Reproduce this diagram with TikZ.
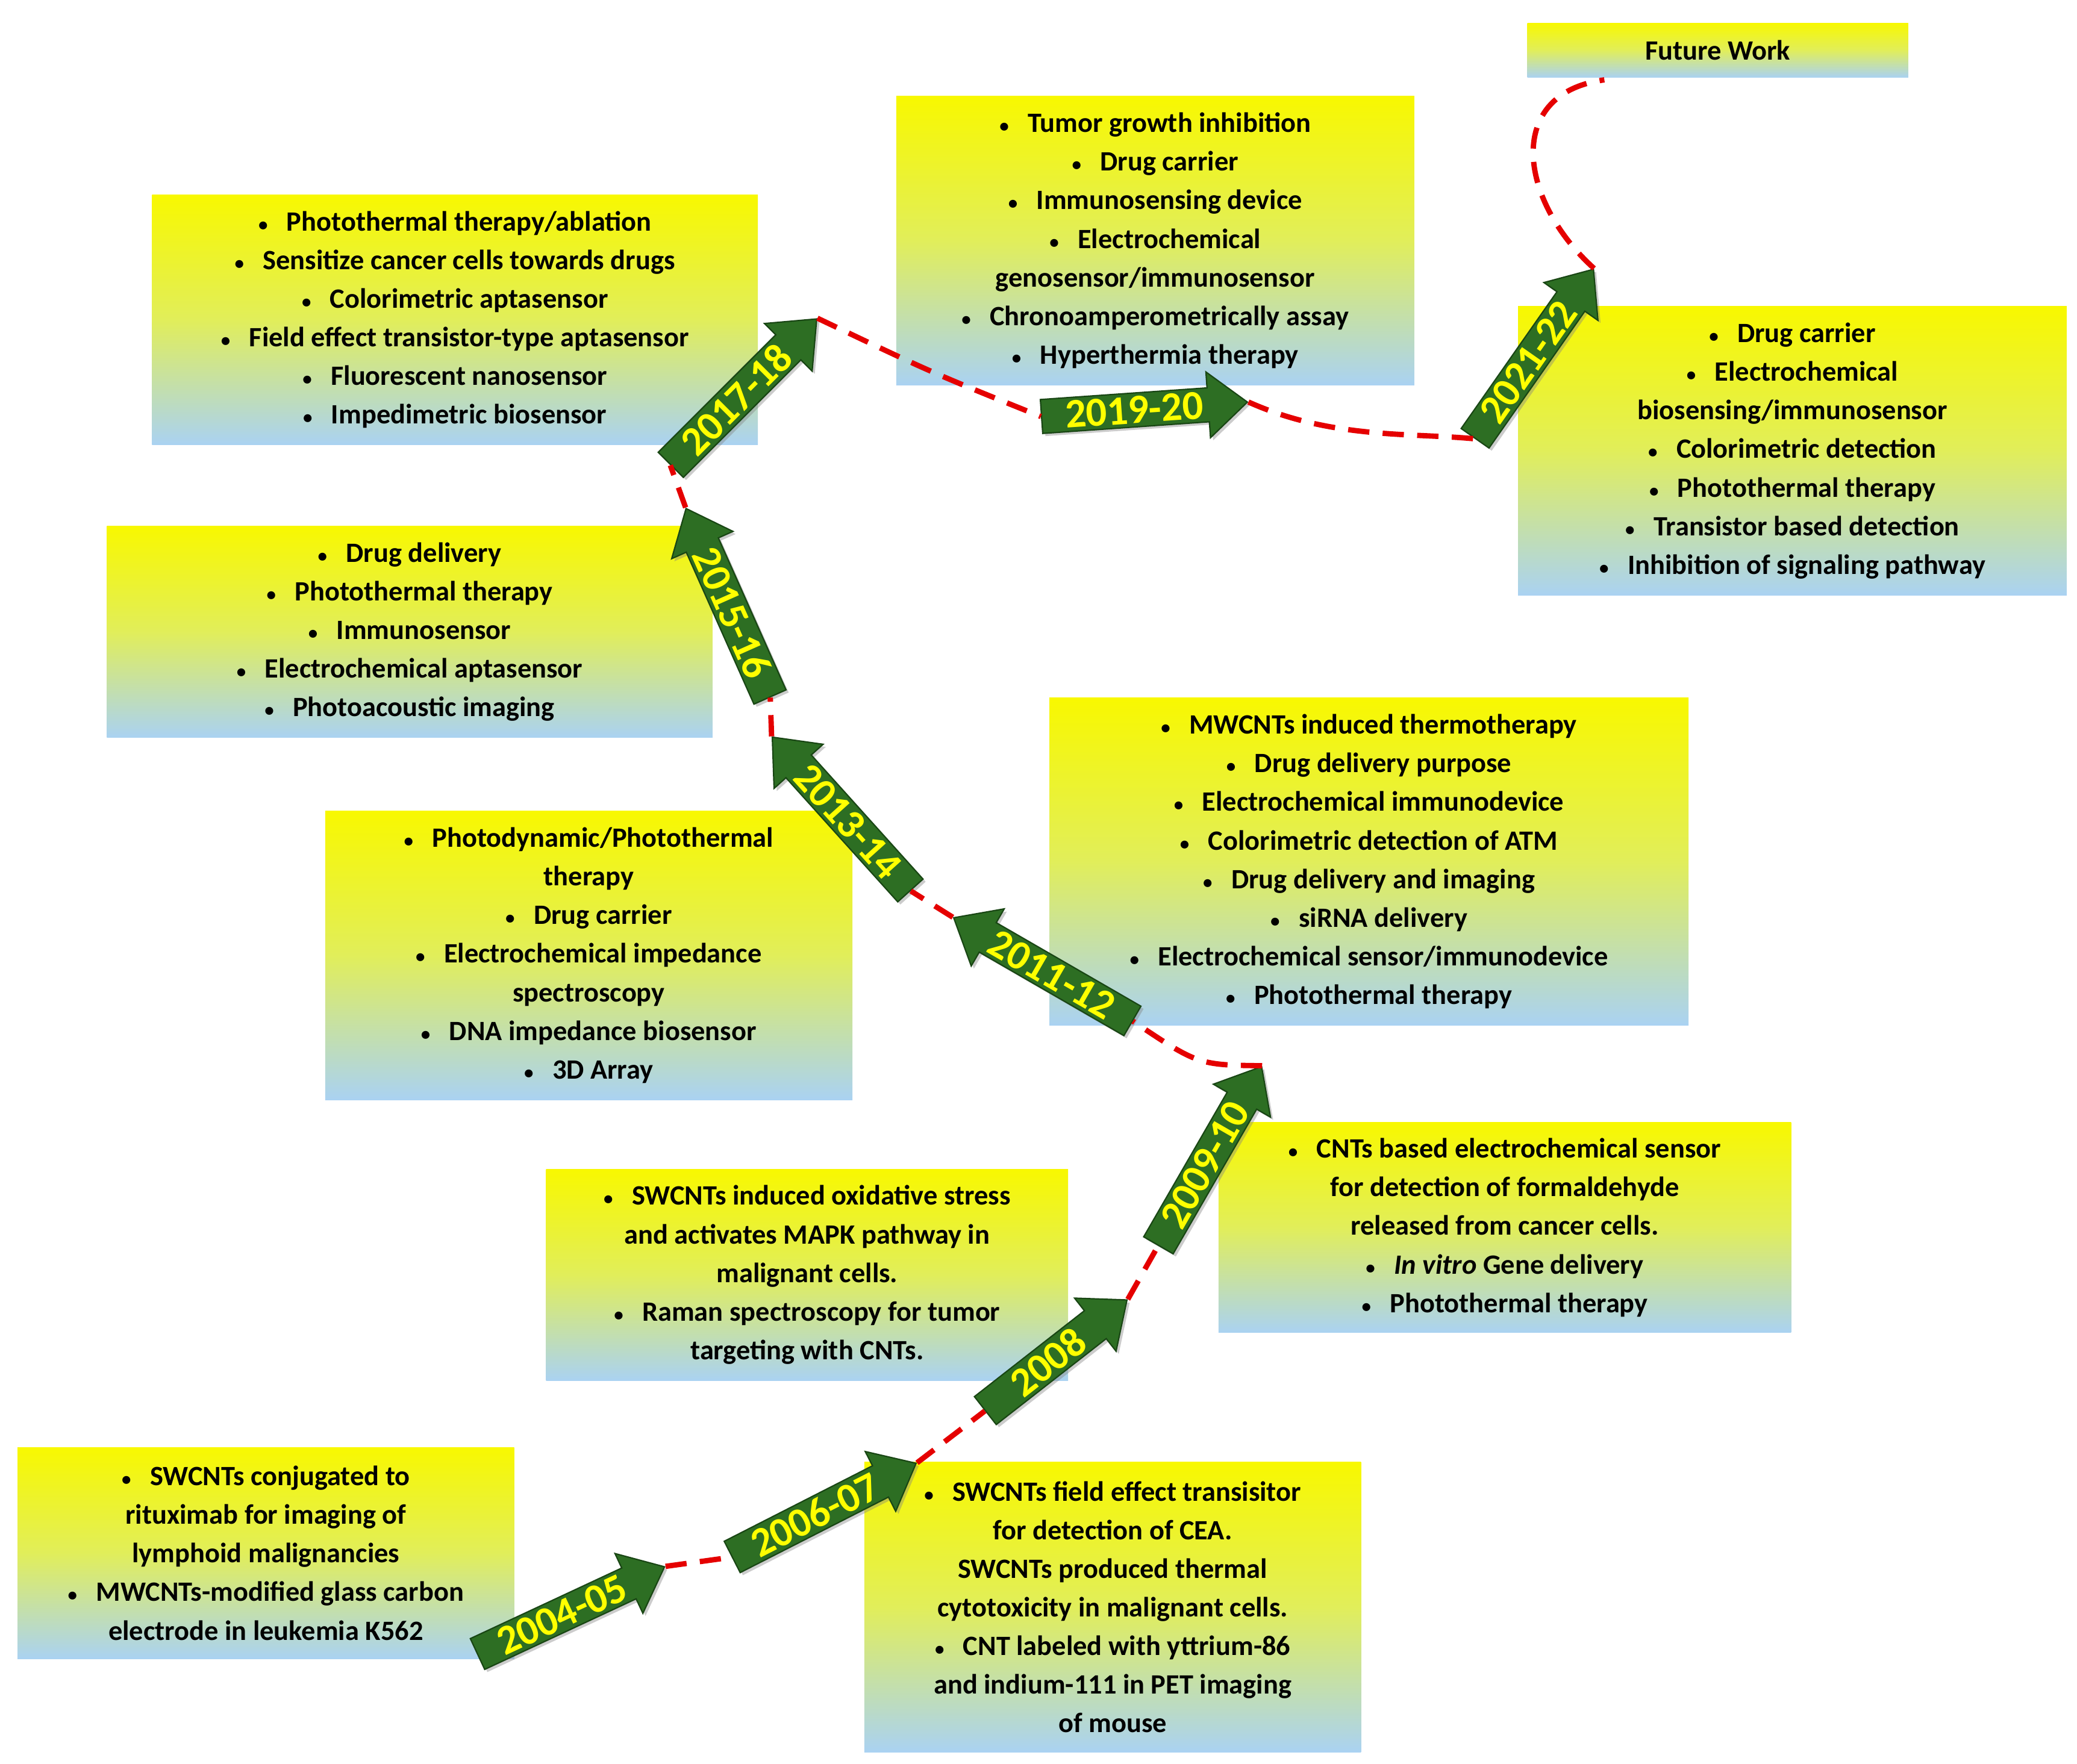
\documentclass[tikz,border=0pt]{standalone}
\usepackage{fontspec}
\setmainfont{Carlito}
\usetikzlibrary{shapes.arrows,shadows}
\begin{document}
\begin{tikzpicture}[x=1pt,y=-1pt,
 box/.style={anchor=north west,inner sep=2pt,align=center,
   top color={rgb,255:red,248;green,248;blue,0},bottom color={rgb,255:red,170;green,210;blue,242},
   middle color={rgb,255:red,225;green,238;blue,90},
   font=\fontsize{21}{29}\selectfont\bfseries},
 yr/.style={single arrow,single arrow head extend=12pt,single arrow tip angle=80,
   minimum height=155pt,minimum width=48pt,inner sep=2pt,
   fill={rgb,255:red,45;green,110;blue,35},draw={rgb,255:red,25;green,70;blue,20},line width=1pt,
   drop shadow={shadow xshift=2pt,shadow yshift=-2pt,opacity=.4},
   text={rgb,255:red,255;green,255;blue,0},font=\fontsize{31}{32}\selectfont\bfseries},
 yl/.style={yr,shape border rotate=180},
 rdash/.style={red!90!black,line width=4pt,dash pattern=on 16pt off 10pt}]
\useasboundingbox[fill=white] (0,0) rectangle (1560,1325);
\def\b{{\fontsize{14}{14}\selectfont\textbullet}\ \ \ }
% boxes
\node[box,minimum width=286,minimum height=41] (fw) at (1147,17) {Future Work};
\node[box,minimum width=389,minimum height=217] (b1920) at (673,72) {\b Tumor growth inhibition\\ \b Drug carrier\\ \b Immunosensing device\\ \b Electrochemical\\ genosensor/immunosensor\\ \b Chronoamperometrically assay\\ \b Hyperthermia therapy};
\node[box,minimum width=455,minimum height=188] (b1718) at (114,146) {\b Photothermal therapy/ablation\\ \b Sensitize cancer cells towards drugs\\ \b Colorimetric aptasensor\\ \b Field effect transistor-type aptasensor\\ \b Fluorescent nanosensor\\ \b Impedimetric biosensor};
\node[box,minimum width=412,minimum height=217] (b2122) at (1140,230) {\b Drug carrier\\ \b Electrochemical\\ biosensing/immunosensor\\ \b Colorimetric detection\\ \b Photothermal therapy\\ \b Transistor based detection\\ \b Inhibition of signaling pathway};
\node[box,minimum width=455,minimum height=159] (b1516) at (80,395) {\b Drug delivery\\ \b Photothermal therapy\\ \b Immunosensor\\ \b Electrochemical aptasensor\\ \b Photoacoustic imaging};
\node[box,minimum width=480,minimum height=246] (b1112) at (788,524) {\b MWCNTs induced thermotherapy\\ \b Drug delivery purpose\\ \b Electrochemical immunodevice\\ \b Colorimetric detection of ATM\\ \b Drug delivery and imaging\\ \b siRNA delivery\\ \b Electrochemical sensor/immunodevice\\ \b Photothermal therapy};
\node[box,minimum width=396,minimum height=217] (b1314) at (244,609) {\b Photodynamic/Photothermal\\ therapy\\ \b Drug carrier\\ \b Electrochemical impedance\\ spectroscopy\\ \b DNA impedance biosensor\\ \b 3D Array};
\node[box,minimum width=430,minimum height=158] (b0910) at (915,843) {\b CNTs based electrochemical sensor\\ for detection of formaldehyde\\ released from cancer cells.\\ \b \textit{In vitro} Gene delivery\\ \b Photothermal therapy};
\node[box,minimum width=392,minimum height=159] (b08) at (410,878) {\b SWCNTs induced oxidative stress\\ and activates MAPK pathway in\\ malignant cells.\\ \b Raman spectroscopy for tumor\\ targeting with CNTs.};
\node[box,minimum width=373,minimum height=159] (b0405) at (13,1087) {\b SWCNTs conjugated to\\ rituximab for imaging of\\ lymphoid malignancies\\ \b MWCNTs-modified glass carbon\\ electrode in leukemia K562};
\node[box,minimum width=373,minimum height=218] (b0607) at (649,1098) {\b SWCNTs field effect transisitor\\ for detection of CEA.\\ SWCNTs produced thermal\\ cytotoxicity in malignant cells.\\ \b CNT labeled with yttrium-86\\ and indium-111 in PET imaging\\ of mouse};
% arrows
\node[yr,rotate=25] (a1) at (422,1213) {2004-05};
\node[yr,rotate=27] (a2) at (612,1138) {2006-07};
\node[yr,rotate=38,minimum height=135pt] (a3) at (787,1023) {2008};
\node[yr,rotate=60] (a4) at (905,875) {2009-10};
\node[yl,rotate=-30] (a5) at (790,732) {2011-12};
\node[yl,rotate=-48] (a6) at (637,617) {2013-14};
\node[yl,rotate=-66] (a7) at (550,460) {2015-16};
\node[yr,rotate=45] (a8) at (553,300) {2017-18};
\node[yr,rotate=4] (a9) at (852,308) {2019-20};
\node[yr,rotate=55] (a10) at (1148,272) {2021-22};
% dashed path
\draw[rdash] (a1.tip) -- (a2.tail);
\draw[rdash] (a2.tip) -- (a3.tail);
\draw[rdash] (a3.tip) -- (a4.tail);
\draw[rdash] (a4.tip) .. controls (900,800) .. (a5.tail);
\draw[rdash] (a5.tip) -- (a6.tail);
\draw[rdash] (a6.tip) -- (a7.tail);
\draw[rdash] (a7.tip) -- (a8.tail);
\draw[rdash] (a8.tip) .. controls (700,280) .. (a9.tail);
\draw[rdash] (a9.tip) .. controls (1000,330) and (1060,325) .. (a10.tail);
\coordinate (fe) at (1205,60);
\draw[rdash] (a10.tip) .. controls (1140,150) and (1130,70) .. (fe);
\end{tikzpicture}
\end{document}
